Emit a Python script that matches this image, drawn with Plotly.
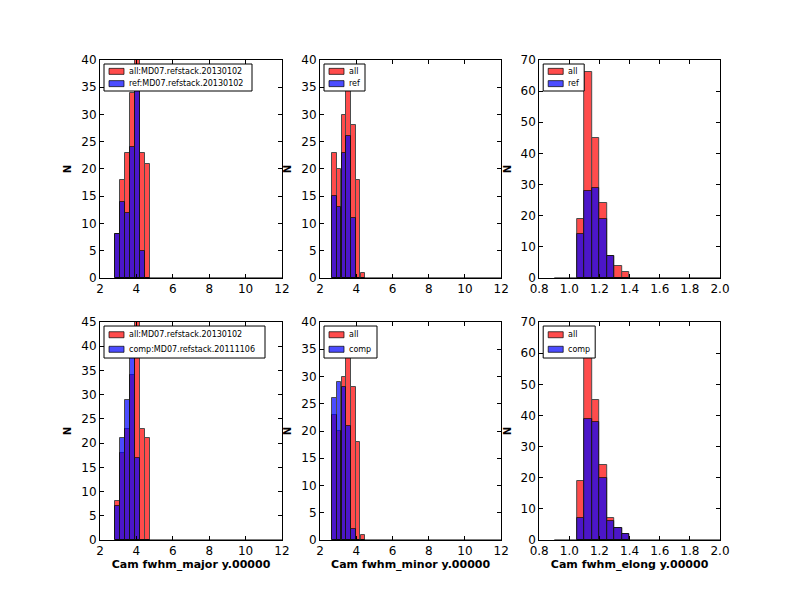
import plotly.graph_objects as go

# bin left edges and counts
major_edges = [2.83, 3.10, 3.37, 3.64, 3.91, 4.18, 4.45]
major_width = 0.27
major_all = [8, 18, 23, 34, 46, 23, 21]
major_ref = [8, 14, 12, 24, 36, 5, 0]
major_comp = [7, 21, 29, 40, 17, 0, 0]

minor_edges = [2.66, 2.92, 3.19, 3.45, 3.71, 3.97, 4.24]
minor_width = 0.262
minor_all = [23, 20, 30, 36, 28, 18, 1]
minor_ref = [15, 13, 23, 26, 11, 0, 0]
minor_comp = [26, 29, 28, 21, 2, 0, 0]

elong_edges = [1.05, 1.10, 1.15, 1.20, 1.25, 1.30, 1.35]
elong_width = 0.05
elong_all = [19, 66, 45, 24, 7, 4, 2]
elong_ref = [14, 28, 29, 19, 7, 0, 0]
elong_comp = [7, 39, 38, 20, 6, 4, 2]

all_name = 'all:MD07.refstack.20130102'
ref_name = 'ref:MD07.refstack.20130102'
comp_name = 'comp:MD07.refstack.20111106'

FONT = 'DejaVu Sans'
W, H = 800, 600
RED_A = 'rgba(255,0,0,0.7)'
BLUE_A = 'rgba(0,0,255,0.7)'
EDGE_A = 'rgba(0,0,0,0.7)'

# matplotlib default subplot grid on an 800x600 canvas
xdoms = [[0.125, 0.3525], [0.4, 0.6265], [0.674, 0.9]]
ydoms = [[0.5367, 0.9], [0.1, 0.4633]]

panels = [
    # row, col, edges, width, all, other, other name, ylim, ystep, xrange, xdtick, baseline, xlabel, legend box (w, h)
    (0, 0, major_edges, major_width, major_all, major_ref, ref_name, 40, 5, [2, 12], 2, [2.83, 12], None, (148, 27)),
    (0, 1, minor_edges, minor_width, minor_all, minor_ref, 'ref', 40, 5, [2, 12], 2, [2.66, 12], None, (41, 27)),
    (0, 2, elong_edges, elong_width, elong_all, elong_ref, 'ref', 70, 10, [0.8, 2.0], 0.2, [0.9, 2.0], None, (41, 27)),
    (1, 0, major_edges, major_width, major_all, major_comp, comp_name, 45, 5, [2, 12], 2, [2.83, 12],
     'Cam fwhm_major y.00000', (161, 32)),
    (1, 1, minor_edges, minor_width, minor_all, minor_comp, 'comp', 40, 5, [2, 12], 2, [2.66, 12],
     'Cam fwhm_minor y.00000', (53, 32)),
    (1, 2, elong_edges, elong_width, elong_all, elong_comp, 'comp', 70, 10, [0.8, 2.0], 0.2, [0.9, 2.0],
     'Cam fwhm_elong y.00000', (52, 32)),
]

fig = go.Figure()
layout = {}
shapes = []
annotations = []


def px(x, y):
    return x / W, 1 - y / H


for i, (r, c, edges, bw, allv, other, oname, ylim, ystep, xr, xdt, base, xlabel, lbox) in enumerate(panels):
    n = i + 1
    sfx = '' if n == 1 else str(n)
    xa, ya = 'x' + sfx, 'y' + sfx
    allname = all_name if c == 0 else 'all'

    # zero-count bins show as a flat line along the baseline
    fig.add_trace(go.Scatter(x=base, y=[0, 0], mode='lines', line=dict(color='black', width=1),
                             xaxis=xa, yaxis=ya, showlegend=False, hoverinfo='skip'))
    fig.add_trace(go.Bar(x=edges, y=allv, width=bw, offset=0, name=allname, showlegend=False,
                         marker=dict(color='red', line=dict(color='black', width=1)),
                         opacity=0.7, xaxis=xa, yaxis=ya))
    fig.add_trace(go.Bar(x=edges, y=other, width=bw, offset=0, name=oname, showlegend=False,
                         marker=dict(color='blue', line=dict(color='black', width=1)),
                         opacity=0.7, xaxis=xa, yaxis=ya))

    axcommon = dict(showline=True, linecolor='black', linewidth=1, mirror='allticks',
                    ticks='inside', ticklen=4, tickcolor='black', showgrid=False,
                    zeroline=False, automargin=False,
                    tickfont=dict(family=FONT, size=12, color='black'))
    layout['xaxis' + sfx] = dict(axcommon, domain=xdoms[c], anchor=ya, range=xr, dtick=xdt,
                                 tick0=xr[0], tickformat='.1f' if xdt < 1 else 'd',
                                 title=dict(text='<b>%s</b>' % xlabel if xlabel else '',
                                            font=dict(family=FONT, size=11, color='black'),
                                            standoff=1))
    layout['yaxis' + sfx] = dict(axcommon, domain=ydoms[r], anchor=xa, range=[0, ylim], dtick=ystep,
                                 title=dict(text='<b>N</b>', font=dict(family=FONT, size=10, color='black'),
                                            standoff=7))

    # matplotlib-style legend box in the upper left corner of each panel
    ax_left = xdoms[c][0] * W
    ax_top = (1 - ydoms[r][1]) * H
    bx0, by0 = ax_left + 4, ax_top + 4
    bw_px, bh_px = lbox
    x0, y0 = px(bx0, by0)
    x1, y1 = px(bx0 + bw_px, by0 + bh_px)
    shapes.append(dict(type='rect', xref='paper', yref='paper', x0=x0, y0=y0, x1=x1, y1=y1,
                       fillcolor='white', line=dict(color='black', width=1), layer='above'))
    gap = bh_px / 2.2
    for k, (label, col) in enumerate([(allname, RED_A), (oname, BLUE_A)]):
        cy = by0 + bh_px / 2 + (k - 0.5) * gap
        sx0, sy0 = px(bx0 + 5, cy - 3)
        sx1, sy1 = px(bx0 + 20, cy + 3)
        shapes.append(dict(type='rect', xref='paper', yref='paper', x0=sx0, y0=sy0, x1=sx1, y1=sy1,
                           fillcolor=col, line=dict(color=EDGE_A, width=1), layer='above'))
        tx, ty = px(bx0 + 23, cy)
        annotations.append(dict(text=label, xref='paper', yref='paper', x=tx, y=ty,
                                xanchor='left', yanchor='middle', showarrow=False,
                                font=dict(family=FONT, size=8, color='black')))

fig.update_layout(**layout)
fig.update_layout(width=W, height=H, barmode='overlay', bargap=0, showlegend=False,
                  margin=dict(l=0, r=0, t=0, b=0),
                  paper_bgcolor='white', plot_bgcolor='white',
                  font=dict(family=FONT, color='black'),
                  shapes=shapes, annotations=annotations)

# drop the browser's default body margin so the figure sits at the page corner
fig.write_html('out.html', config={'displayModeBar': False},
               post_script="document.body.style.margin='0px';")
